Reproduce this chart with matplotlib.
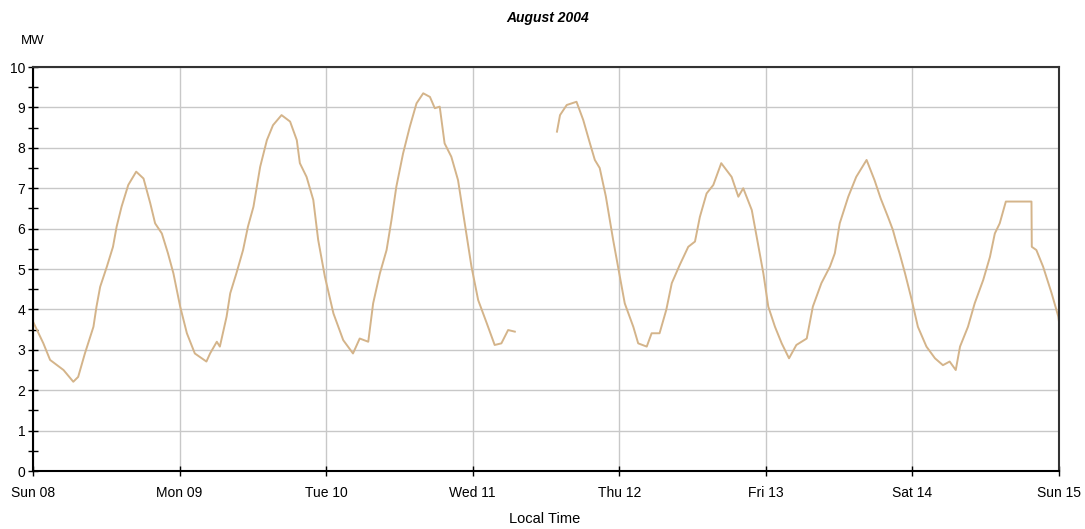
'''
plot.py

Recreate the August 2004 power trace (MW vs local time, one week).
Values were read off the reference picture by hand.
'''

import pandas as pd
import matplotlib
matplotlib.use('Agg')
import matplotlib.pyplot as plt
import matplotlib.dates as mdates
from matplotlib.ticker import MultipleLocator

# ============================================
# Data: hours after Sun 08 00:00, and MW
# ============================================
start_day = '2004-08-08'

# first stretch, up to the data gap on Wed 11
seg1_hours = [0.0, 1.7, 2.8, 5.0, 6.6, 7.4, 8.5, 9.9, 10.4, 11.0, 12.1, 13.1,
              13.7, 14.5, 15.6, 16.9, 18.1, 19.2, 20.0, 21.1, 22.1, 23.0,
              24.1, 25.2, 26.5, 28.4, 29.0, 30.1, 30.6, 31.7, 32.3, 33.3,
              34.4, 35.2, 36.1, 37.2, 38.3, 39.3, 40.7, 42.1, 43.2, 43.7,
              44.8, 45.9, 46.7, 47.8, 49.2, 50.8, 52.4, 53.5, 54.9, 55.7,
              56.8, 57.9, 58.7, 59.5, 60.6, 61.7, 62.8, 63.9, 65.0, 65.8,
              66.6, 67.4, 68.5, 69.6, 70.7, 71.8, 72.9, 74.3, 75.6, 76.7,
              77.8, 78.9]
seg1_mw = [3.70, 3.16, 2.75, 2.50, 2.21, 2.33, 2.91, 3.57, 4.07, 4.56, 5.06, 5.55,
           6.05, 6.54, 7.08, 7.41, 7.24, 6.63, 6.13, 5.88, 5.39, 4.89,
           4.07, 3.41, 2.91, 2.71, 2.91, 3.20, 3.08, 3.82, 4.40, 4.89,
           5.47, 6.05, 6.54, 7.53, 8.19, 8.56, 8.81, 8.65, 8.19, 7.62,
           7.28, 6.71, 5.72, 4.81, 3.90, 3.24, 2.91, 3.28, 3.20, 4.15,
           4.89, 5.47, 6.21, 7.04, 7.86, 8.52, 9.10, 9.35, 9.26, 8.98,
           9.02, 8.11, 7.78, 7.20, 6.13, 5.06, 4.23, 3.66, 3.12, 3.16,
           3.49, 3.45]

# second stretch, from Wed 11 afternoon to Sun 15
seg2_hours = [85.8, 86.3, 87.4, 89.0, 90.1, 91.2, 92.0, 92.8, 93.8, 95.0,
              96.1, 96.9, 98.3, 99.1, 100.5, 101.3, 102.6, 103.7, 104.6,
              105.9, 107.3, 108.4, 109.2, 110.3, 111.4, 112.7, 114.4, 115.5,
              116.3, 117.7, 118.5, 119.6, 120.4, 121.5, 122.6, 123.8, 125.0,
              126.7, 127.7, 129.1, 130.5, 131.3, 132.1, 133.5, 134.8, 136.5,
              137.8, 138.8, 140.0, 140.8, 141.4, 141.9, 142.8, 143.9, 144.9,
              146.3, 147.7, 149.0, 150.1, 151.1, 151.8, 153.1, 154.2, 155.6,
              156.7, 157.5, 158.3, 159.3, 163.5, 163.55, 164.3, 165.4, 166.8,
              167.9, 168.0]
seg2_mw = [8.40, 8.81, 9.06, 9.14, 8.69, 8.11, 7.70, 7.50, 6.80, 5.72,
           4.81, 4.15, 3.57, 3.16, 3.08, 3.41, 3.41, 3.99, 4.65,
           5.10, 5.55, 5.68, 6.29, 6.87, 7.08, 7.62, 7.28, 6.79,
           7.00, 6.46, 5.80, 4.89, 4.07, 3.57, 3.16, 2.79, 3.12,
           3.28, 4.07, 4.65, 5.06, 5.39, 6.13, 6.79, 7.28, 7.70,
           7.20, 6.75, 6.29, 5.97, 5.64, 5.39, 4.89, 4.23, 3.57,
           3.08, 2.79, 2.62, 2.71, 2.50, 3.08, 3.57, 4.15, 4.73,
           5.30, 5.88, 6.13, 6.67, 6.67, 5.55, 5.47, 5.06, 4.40,
           3.82, 3.70]

y_limits = (0, 10)
title_text = 'August 2004'
y_unit = 'MW'
x_label = 'Local Time'


def to_times(hours):
    '''
    Turn hour offsets into timestamps from the start day.
    '''
    return pd.Timestamp(start_day) + pd.to_timedelta(hours, unit='h')


def main():
    line_color = '#D4B48A'
    grid_color = '#C8C8C8'
    plt.rcParams['font.family'] = ['Liberation Sans', 'DejaVu Sans']

    fig = plt.figure(figsize=(10.85, 5.29), dpi=100)
    ax = fig.add_axes([0.0304, 0.1096, 0.9456, 0.7637])

    ax.plot(to_times(seg1_hours), seg1_mw, color=line_color, lw=1.4)
    ax.plot(to_times(seg2_hours), seg2_mw, color=line_color, lw=1.4)

    # ===== axes limits and ticks
    x0 = pd.Timestamp(start_day)
    ax.set_xlim(x0, x0 + pd.Timedelta(days=7))
    ax.set_ylim(*y_limits)
    ax.xaxis.set_major_locator(mdates.DayLocator())
    ax.xaxis.set_major_formatter(mdates.DateFormatter('%a %d'))
    ax.yaxis.set_major_locator(MultipleLocator(1))
    ax.yaxis.set_minor_locator(MultipleLocator(0.5))

    ax.tick_params(axis='both', which='both', direction='inout', length=7,
                   width=1, color='black', labelsize=10, labelcolor='black')
    ax.tick_params(axis='x', pad=7)
    ax.tick_params(axis='y', pad=2)

    ax.grid(True, which='major', color=grid_color, lw=1)
    ax.set_axisbelow(True)

    for side in ['left', 'bottom']:
        ax.spines[side].set_color('black')
        ax.spines[side].set_linewidth(1.5)
    for side in ['top', 'right']:
        ax.spines[side].set_color('#333333')
        ax.spines[side].set_linewidth(1.5)

    # ===== labels
    fig.text(0.505, 0.966, title_text, ha='center', va='center',
             fontsize=10, fontweight='bold', fontstyle='italic')
    fig.text(0.030, 0.922, y_unit, ha='center', va='center', fontsize=9.5)
    fig.text(0.502, 0.018, x_label, ha='center', va='center', fontsize=10.5)

    fig.savefig('out.png', dpi=100)
    plt.close(fig)


if __name__ == '__main__':
    main()
